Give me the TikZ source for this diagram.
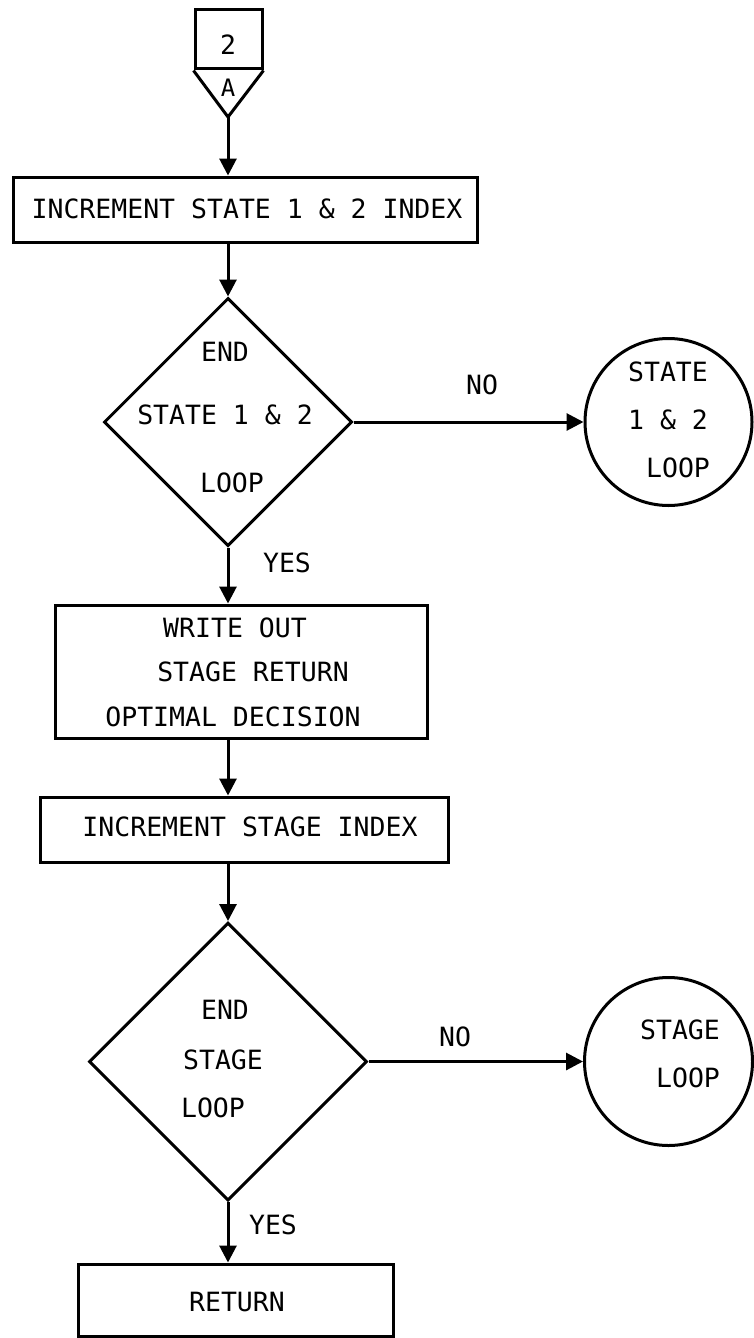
\documentclass[tikz,border=0pt]{standalone}
\usepackage{fontspec}
\newfontfamily\chartfont{DejaVu Sans Mono}
\usetikzlibrary{arrows.meta,shapes.geometric}
\begin{document}
\begin{tikzpicture}[x=1pt,y=-1pt,
  line width=3pt,
  every node/.style={font=\chartfont\fontsize{26.5}{30}\selectfont, inner sep=0pt},
  box/.style={draw, rectangle, minimum width=#1},
  decision/.style={draw, diamond, minimum width=#1, minimum height=#1},
  loopcirc/.style={draw, circle, minimum size=#1},
  arr/.style={-{Triangle[length=17pt,width=17pt]}},
  txt/.style={anchor=center}
]
\useasboundingbox (0,0) rectangle (753,1338);

% off-page connector: box with "2" over a triangle with "A"
\node[draw, rectangle, minimum width=67pt, minimum height=59pt] (conn) at (228.5,39.5) {};
\coordinate (apex) at (228,117);
\draw[line join=miter] (conn.south west) -- (apex) -- (conn.south east);
\node[txt] (conn2) at (228,45) {2};
\node[txt, font=\chartfont\fontsize{24}{28}\selectfont] (connA) at (228,88) {A};

% process boxes
\node[box=464pt, minimum height=65pt] (r1) at (245,209.5) {};
\node[txt] (t1) at (247,209) {INCREMENT STATE 1 \& 2 INDEX};

\node[box=372pt, minimum height=133pt] (r2) at (241,671.5) {};
\node[txt] (t2a) at (235,628) {WRITE OUT};
\node[txt] (t2b) at (253,672) {STAGE RETURN};
\node[txt] (t2c) at (233,717) {OPTIMAL DECISION};

\node[box=408pt, minimum height=65pt] (r3) at (244,829.5) {};
\node[txt] (t3) at (250,827) {INCREMENT STAGE INDEX};

\node[box=315pt, minimum height=72pt] (r4) at (235.5,1300) {};
\node[txt] (t4) at (237,1302) {RETURN};

% decisions
\node[decision=248pt] (d1) at (228,422) {};
\node[txt] (d1a) at (225,352) {END};
\node[txt] (d1b) at (225,415) {STATE 1 \& 2};
\node[txt] (d1c) at (232,483) {LOOP};

\node[decision=278pt] (d2) at (228,1061.5) {};
\node[txt] (d2a) at (225,1010) {END};
\node[txt] (d2b) at (223,1060) {STAGE};
\node[txt] (d2c) at (213,1108) {LOOP};

% loop-back connectors
\node[loopcirc=167pt] (c1) at (668.5,422) {};
\node[txt] (c1a) at (668,372) {STATE};
\node[txt] (c1b) at (668,420) {1 \& 2};
\node[txt] (c1c) at (678,468) {LOOP};

\node[loopcirc=168pt] (c2) at (668.5,1061.5) {};
\node[txt] (c2a) at (680,1030) {STAGE};
\node[txt] (c2b) at (688,1078) {LOOP};

% branch labels
\node[txt] (no1) at (482,385) {NO};
\node[txt] (yes1) at (287,563) {YES};
\node[txt] (no2) at (455,1037) {NO};
\node[txt] (yes2) at (273,1225) {YES};

% flow lines
\draw[arr] (apex) -- (apex |- r1.north);
\draw[arr] (d1.north |- r1.south) -- (d1.north);
\draw[arr] (d1.east) -- (c1.west);
\draw[arr] (d1.south) -- (d1.south |- r2.north);
\draw[arr] (d1.south |- r2.south) -- (d1.south |- r3.north);
\draw[arr] (d2.north |- r3.south) -- (d2.north);
\draw[arr] (d2.east) -- (c2.west);
\draw[arr] (d2.south) -- (d2.south |- r4.north);
\end{tikzpicture}
\end{document}
